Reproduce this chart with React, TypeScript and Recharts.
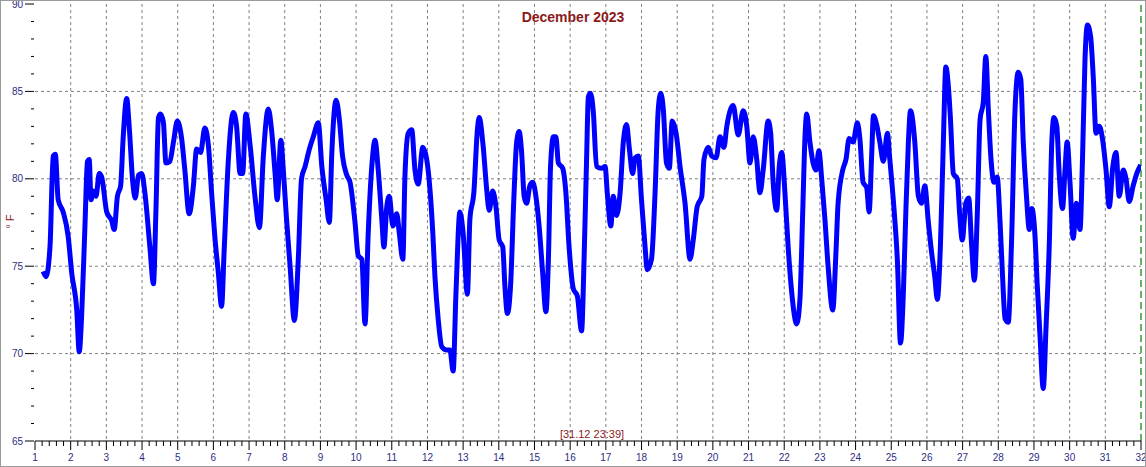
import React from "react";
import { LineChart, Line, XAxis, YAxis, CartesianGrid, ReferenceLine } from "recharts";

// readings of December 2023, position in days (1 = Dec 1 00:00) and temperature in °F
const readingDay = [
  1.23, 1.31, 1.42, 1.51, 1.57, 1.65, 1.79, 1.93, 2.03, 2.17, 2.24, 2.31, 2.4, 2.47, 2.52, 2.57, 2.63, 2.71, 2.8, 2.87,
  3.01, 3.15, 3.22, 3.31, 3.4, 3.47, 3.57, 3.64, 3.74, 3.81, 3.9, 3.99, 4.08, 4.22, 4.32, 4.39, 4.46, 4.52, 4.6, 4.67,
  4.78, 4.88, 4.99, 5.11, 5.2, 5.32, 5.44, 5.53, 5.64, 5.76, 5.86, 5.95, 6.04, 6.14, 6.23, 6.3, 6.42, 6.56, 6.65, 6.75,
  6.82, 6.91, 7.03, 7.17, 7.29, 7.4, 7.54, 7.63, 7.73, 7.79, 7.89, 7.96, 8.05, 8.15, 8.27, 8.38, 8.47, 8.57, 8.69, 8.8,
  8.94, 9.04, 9.16, 9.25, 9.32, 9.44, 9.53, 9.62, 9.74, 9.83, 9.97, 10.06, 10.16, 10.25, 10.34, 10.44, 10.53, 10.62,
  10.72, 10.78, 10.86, 10.93, 11.03, 11.14, 11.21, 11.31, 11.37, 11.46, 11.56, 11.65, 11.74, 11.87, 11.98, 12.07,
  12.15, 12.21, 12.3, 12.4, 12.54, 12.63, 12.72, 12.8, 12.91, 13.0, 13.12, 13.19, 13.3, 13.4, 13.45, 13.56, 13.66,
  13.73, 13.83, 13.92, 14.01, 14.11, 14.17, 14.24, 14.33, 14.42, 14.5, 14.57, 14.64, 14.71, 14.78, 14.87, 14.95,
  15.04, 15.13, 15.23, 15.32, 15.39, 15.45, 15.53, 15.6, 15.67, 15.79, 15.88, 15.97, 16.09, 16.2, 16.32, 16.39, 16.46,
  16.51, 16.57, 16.65, 16.74, 16.88, 16.98, 17.04, 17.14, 17.21, 17.3, 17.4, 17.49, 17.58, 17.66, 17.75, 17.82, 17.91,
  18.0, 18.1, 18.16, 18.28, 18.38, 18.47, 18.54, 18.61, 18.7, 18.78, 18.86, 18.97, 19.08, 19.22, 19.36, 19.45, 19.56,
  19.69, 19.75, 19.87, 19.97, 20.09, 20.2, 20.31, 20.39, 20.5, 20.57, 20.71, 20.85, 20.95, 21.04, 21.13, 21.23, 21.32,
  21.41, 21.55, 21.62, 21.69, 21.79, 21.86, 21.93, 22.02, 22.11, 22.21, 22.35, 22.44, 22.52, 22.58, 22.63, 22.72,
  22.81, 22.89, 22.97, 23.05, 23.14, 23.23, 23.36, 23.45, 23.51, 23.64, 23.73, 23.82, 23.93, 24.05, 24.12, 24.21,
  24.31, 24.38, 24.45, 24.5, 24.59, 24.68, 24.78, 24.89, 24.96, 25.08, 25.17, 25.26, 25.34, 25.41, 25.48, 25.54,
  25.66, 25.76, 25.85, 25.94, 26.04, 26.13, 26.22, 26.29, 26.38, 26.46, 26.53, 26.6, 26.66, 26.74, 26.85, 26.92,
  26.99, 27.09, 27.17, 27.25, 27.33, 27.41, 27.49, 27.58, 27.65, 27.72, 27.79, 27.88, 27.97, 28.05, 28.12, 28.19,
  28.28, 28.37, 28.47, 28.56, 28.63, 28.7, 28.79, 28.87, 28.94, 29.03, 29.09, 29.17, 29.26, 29.34, 29.43, 29.5, 29.56,
  29.64, 29.71, 29.8, 29.87, 29.93, 30.01, 30.1, 30.19, 30.29, 30.36, 30.43, 30.5, 30.59, 30.66, 30.74, 30.83, 30.92,
  31.02, 31.11, 31.21, 31.3, 31.39, 31.5, 31.58, 31.67, 31.78, 31.88, 31.99,
];

const readingTemp = [
  74.7, 74.4, 76.1, 81.3, 81.4, 78.8, 78.1, 76.7, 74.6, 72.5, 70.1, 72.3, 77.3, 81.0, 81.1, 78.8, 79.3, 79.0, 80.3, 80.1,
  78.1, 77.6, 77.1, 79.0, 79.6, 82.3, 84.6, 83.0, 79.8, 78.9, 80.2, 80.3, 79.2, 76.1, 74.0, 78.2, 83.5, 83.7, 83.2, 80.9,
  81.0, 82.1, 83.3, 82.3, 80.5, 78.0, 79.6, 81.7, 81.5, 82.9, 81.9, 79.2, 76.7, 74.6, 72.7, 75.8, 81.1, 83.8, 83.0, 80.3,
  80.3, 83.7, 81.9, 78.9, 77.2, 81.3, 84.0, 82.8, 80.3, 78.8, 82.2, 80.5, 77.7, 75.0, 71.9, 75.4, 80.0, 80.7, 81.7, 82.4,
  83.2, 80.7, 78.8, 77.5, 81.5, 84.5, 83.4, 81.3, 80.2, 79.8, 77.5, 75.6, 75.4, 71.7, 76.9, 80.7, 82.2, 80.5,
  77.7, 76.1, 78.4, 79.0, 77.3, 78.0, 76.9, 75.4, 80.2, 82.6, 82.8, 80.5, 79.7, 81.8, 81.1, 79.4,
  76.9, 74.4, 72.0, 70.4, 70.2, 70.2, 69.0, 73.5, 78.1, 76.9, 73.4, 77.7, 79.2, 82.8, 83.5, 81.9, 79.4,
  78.2, 79.3, 78.4, 76.5, 76.1, 73.9, 72.3, 73.9, 78.8, 82.1, 82.7, 81.5, 79.0, 78.6, 79.6, 79.8,
  79.0, 77.3, 74.6, 72.4, 75.4, 80.7, 82.4, 82.4, 80.9, 80.6, 79.2, 76.1, 73.7, 73.3, 71.3, 75.4, 81.1,
  84.7, 84.9, 83.8, 80.7, 80.6, 80.7, 79.2, 77.3, 79.0, 77.9, 79.2, 82.1, 83.1, 81.7, 80.3, 81.2, 81.3,
  78.8, 76.1, 74.8, 75.4, 79.2, 84.0, 84.9, 84.0, 80.9, 80.6, 83.3, 82.6, 80.7, 78.6, 75.4, 76.5, 78.4,
  79.0, 81.1, 81.8, 81.3, 81.2, 82.4, 81.8, 83.0, 84.0, 84.2, 82.5, 83.9, 83.0, 80.9, 82.4, 81.1, 79.2,
  80.5, 83.3, 82.6, 79.8, 78.2, 80.7, 81.5, 79.2, 76.1, 73.5, 71.7, 73.1, 78.2, 82.3, 83.7, 82.1,
  80.9, 80.5, 81.6, 80.0, 77.7, 75.0, 72.5, 75.8, 78.6, 80.5, 81.1, 82.3, 82.1, 83.2, 82.3, 79.8,
  79.5, 78.1, 81.3, 83.6, 83.1, 82.1, 81.0, 82.6, 81.1, 78.2, 75.4, 70.6, 73.5, 78.2, 82.1, 83.9,
  82.1, 79.0, 78.6, 79.6, 77.5, 75.8, 74.4, 73.1, 76.3, 82.1, 86.4, 85.3, 83.4, 80.3, 80.0, 77.9,
  76.5, 78.6, 78.9, 76.3, 74.2, 77.9, 83.4, 84.4, 87.0, 84.0, 81.3, 79.8, 80.1, 77.5, 74.4, 72.0,
  71.8, 76.3, 84.0, 86.1, 85.7, 82.1, 79.0, 77.1, 78.3, 76.7, 74.0, 71.0, 68.0, 71.6, 76.3, 82.1, 83.5,
  83.0, 80.2, 78.3, 80.5, 82.1, 79.8, 76.6, 78.6, 77.1, 81.1, 86.8, 88.8, 88.1, 85.9, 82.6, 83.0, 82.3,
  80.5, 78.4, 80.7, 81.5, 79.0, 80.5, 80.0, 78.7, 79.6, 80.3, 80.8,
];

const dayLabels = Array.from({ length: 32 }, (_, i) => i + 1);
const dayTicks = Array.from({ length: 31 * 5 + 1 }, (_, i) => +(1 + i * 0.2).toFixed(1));
const tempTicks = Array.from({ length: 26 }, (_, i) => 65 + i);
const tempLabels = [65, 70, 75, 80, 85, 90];
const gridTemps = [70, 75, 80, 85];
const gridDays = dayLabels.slice(1, 31);

const data = readingDay.map((d, i) => ({ day: d, temp: readingTemp[i] }));

const FONT = "'Liberation Sans', Arial, sans-serif";
const LABEL_COLOR = "#2e2e80";
const TITLE_COLOR = "#8b1a1a";

const DayTick = (props: any) => {
  const { x, y, payload } = props;
  const v = payload.value;
  const major = Math.abs(v - Math.round(v)) < 1e-6;
  return (
    <g>
      <line x1={x} x2={x} y1={y} y2={y + (major ? 9 : 5)} stroke="#000" strokeWidth={1} />
      {major && (
        <text x={x} y={y + 20} textAnchor="middle" fontSize={10} fontFamily={FONT} fill={LABEL_COLOR}>
          {Math.round(v)}
        </text>
      )}
    </g>
  );
};

const TempTick = (props: any) => {
  const { x, y, payload } = props;
  const v = payload.value;
  const major = tempLabels.includes(v);
  return (
    <g>
      <line x1={x - (major ? 10 : 4)} x2={x - 1} y1={y} y2={y} stroke="#000" strokeWidth={1} />
      {major && (
        <text x={x - 12} y={y + 3.5} textAnchor="end" fontSize={10} fontFamily={FONT} fill={LABEL_COLOR}>
          {v}
        </text>
      )}
    </g>
  );
};

export default function App() {
  return (
    <div style={{ position: "absolute", left: 0, top: 0, width: 1146, height: 467, background: "#fff" }}>
      <LineChart width={1146} height={467} data={data} margin={{ top: 4, right: 5, bottom: 0, left: 0 }}>
        <CartesianGrid
          stroke="#808080"
          strokeDasharray="3 3"
          horizontalValues={gridTemps}
          verticalValues={gridDays}
        />
        <XAxis
          dataKey="day"
          type="number"
          domain={[1, 32]}
          ticks={dayTicks}
          interval={0}
          height={26}
          tickSize={0}
          tickMargin={0}
          tick={<DayTick />}
          axisLine={{ stroke: "#000" }}
          allowDataOverflow
        />
        <YAxis
          type="number"
          domain={[65, 90]}
          ticks={tempTicks}
          interval={0}
          width={35}
          tickSize={0}
          tickMargin={0}
          tick={<TempTick />}
          axisLine={false}
          allowDataOverflow
        />
        <ReferenceLine x={32} stroke="#008000" strokeDasharray="7 4" strokeWidth={1.2} />
        <Line
          type="monotone"
          dataKey="temp"
          stroke="#0000ff"
          strokeWidth={5}
          strokeLinejoin="round"
          dot={false}
          isAnimationActive={false}
        />
      </LineChart>
      <div
        style={{
          position: "absolute", left: 0, top: 9, width: 1146, textAlign: "center",
          fontFamily: FONT, fontWeight: "bold", fontSize: 14, lineHeight: "16px", color: TITLE_COLOR,
        }}
      >
        December 2023
      </div>
      <div
        style={{
          position: "absolute", left: -10, top: 215, width: 40, textAlign: "center",
          fontFamily: FONT, fontSize: 11, lineHeight: "13px", color: TITLE_COLOR, transform: "rotate(-90deg)",
        }}
      >
        ° F
      </div>
      <div
        style={{
          position: "absolute", left: 492, top: 428, width: 200, textAlign: "center",
          fontFamily: FONT, fontSize: 11, lineHeight: "12px", color: TITLE_COLOR,
        }}
      >
        [31.12 23:39]
      </div>
      <div
        style={{
          position: "absolute", left: 0, top: 0, width: 1146, height: 467, boxSizing: "border-box",
          border: "1px solid #9a9a9a", pointerEvents: "none",
        }}
      />
    </div>
  );
}
